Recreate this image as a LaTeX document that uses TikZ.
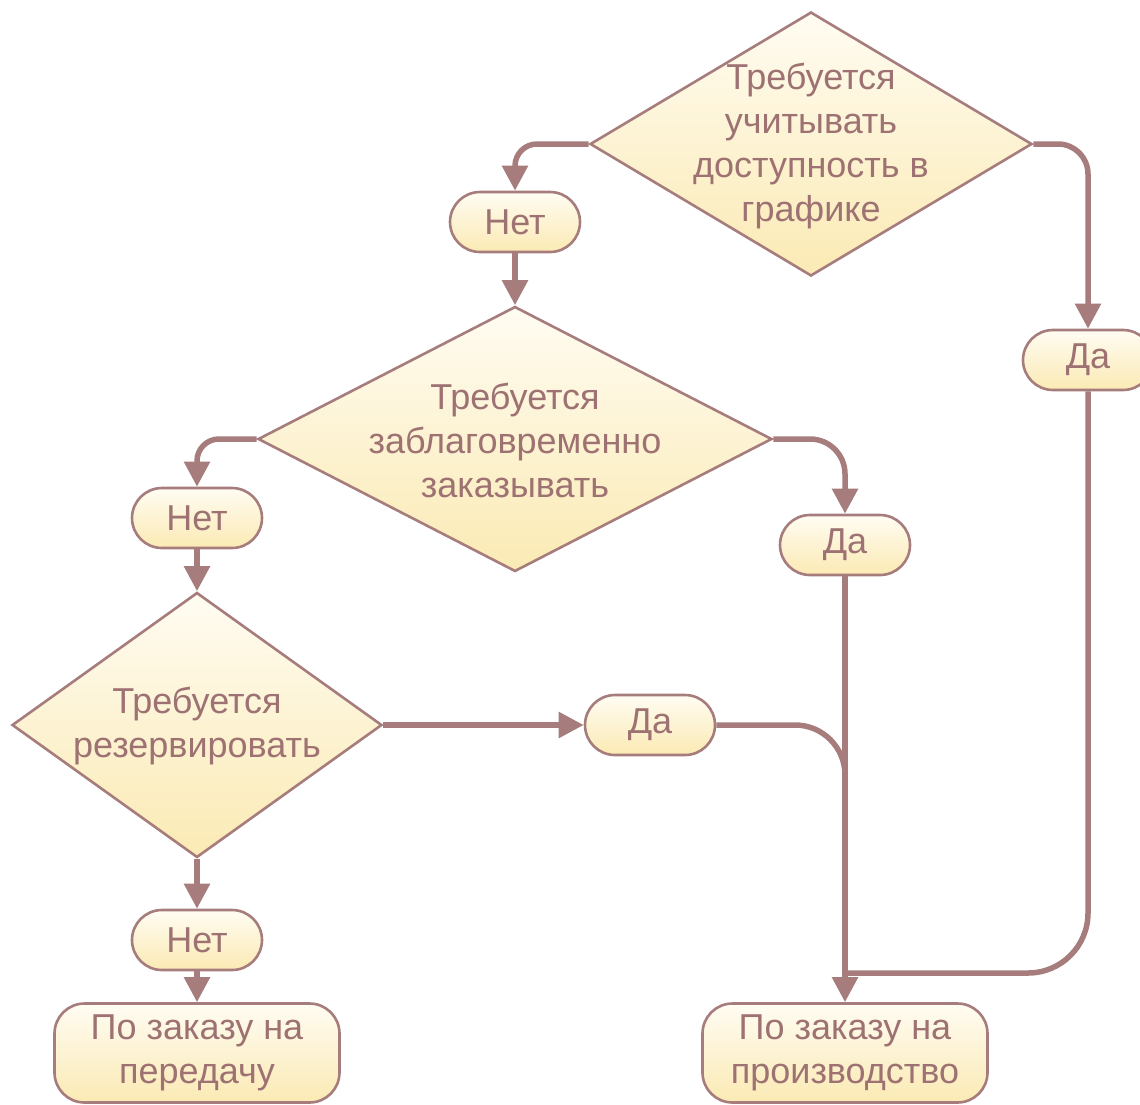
\documentclass[tikz,border=0pt]{standalone}
\usepackage{fontspec}
\setmainfont{Liberation Sans}
\usetikzlibrary{shapes.geometric,shapes.misc,arrows.meta}
\definecolor{edgec}{HTML}{A67C7C}
\definecolor{txtc}{HTML}{9E7272}
\definecolor{filltop}{HTML}{FFFCF2}
\definecolor{fillbot}{HTML}{FBEAB4}
\begin{document}
\begin{tikzpicture}[x=1pt,y=-1pt,
  shaded/.style={draw=edgec, line width=2.6pt, top color=filltop, bottom color=fillbot},
  decision/.style={shaded, diamond, inner sep=0pt},
  lbl/.style={text=txtc, align=center, font=\fontsize{36}{44}\selectfont, inner sep=0pt},
  pill/.style={shaded, rounded rectangle, minimum width=130pt, minimum height=60pt, inner sep=0pt, text=txtc, font=\fontsize{36}{44}\selectfont},
  endbox/.style={shaded, rectangle, rounded corners=30pt, minimum width=285pt, minimum height=99pt, inner sep=0pt, text=txtc, align=center, font=\fontsize{36}{44}\selectfont},
  conn/.style={draw=edgec, line width=5.5pt, -{Triangle[length=25pt,width=25pt]}},
  link/.style={draw=edgec, line width=5.5pt}
]
\useasboundingbox (0,0) rectangle (1140,1104);

% decisions
\node[decision, minimum width=442pt, minimum height=264pt] (d1) at (811,144) {};
\node[lbl] (t1) at ([yshift=-2pt]d1.center) {Требуется\\учитывать\\доступность в\\графике};
\node[decision, minimum width=514pt, minimum height=265pt] (d2) at (515,439) {};
\node[lbl] (t2) at ([yshift=-1pt]d2.center) {Требуется\\заблаговременно\\заказывать};
\node[decision, minimum width=370pt, minimum height=265pt] (d3) at (197,725) {};
\node[lbl] (t3) at ([yshift=-1pt]d3.center) {Требуется\\резервировать};

% answers
\node[pill] (n1) at (515,222) {Нет};
\node[pill] (y1) at (1088,360) {Да};
\node[pill] (n2) at (197,518) {Нет};
\node[pill] (y2) at (845,545) {Да};
\node[pill] (y3) at (650,725) {Да};
\node[pill] (n3) at (197,940) {Нет};

% results
\node[endbox] (r1) at (197,1053) {По заказу на\\передачу};
\node[endbox] (r2) at (845,1053) {По заказу на\\производство};

\coordinate (j1) at (845,973);
\coordinate (j2) at (845,800);

% connectors
\draw[conn, rounded corners=22pt] (d1.west) -| (n1.north);
\draw[conn, rounded corners=30pt] (d1.east) -| (y1.north);
\draw[conn] (n1.south) -- (d2.north);
\draw[conn, rounded corners=22pt] (d2.west) -| (n2.north);
\draw[conn, rounded corners=35pt] (d2.east) -| (y2.north);
\draw[conn] (n2.south) -- (d3.north);
\draw[conn] (d3.east) -- (y3.west);
\draw[conn] (d3.south) -- (n3.north);
\draw[conn] (n3.south) -- (r1.north);
\draw[conn] (y2.south) -- (r2.north);
\draw[link, rounded corners=50pt] (y3.east) -| (j2);
\draw[link, rounded corners=60pt] (y1.south) |- (j1);
\end{tikzpicture}
\end{document}
